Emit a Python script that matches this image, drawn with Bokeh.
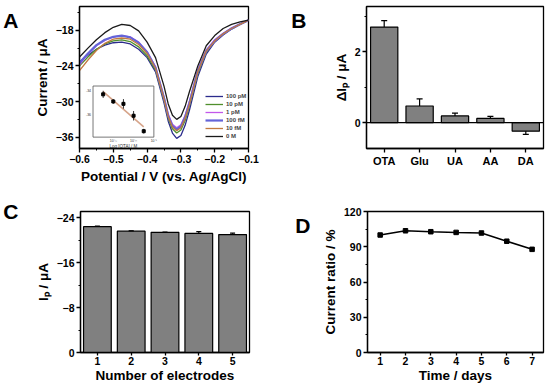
import numpy as np
from bokeh.plotting import figure
from bokeh.layouts import column, row
from bokeh.models import (Range1d, FactorRange, FixedTicker, Span, Whisker, ColumnDataSource,
                          Legend, LegendItem, LinearAxis, TeeHead)
from bokeh.core.properties import value
from bokeh.embed import file_html
from bokeh.resources import INLINE

FONT = "Liberation Sans"

# ---------------- Panel A: DPV curves ----------------
potential = [-0.600, -0.575, -0.550, -0.525, -0.500, -0.475, -0.450, -0.425, -0.400, -0.375, -0.350,
             -0.3375, -0.325, -0.3125, -0.300, -0.2875, -0.275, -0.250, -0.225, -0.200, -0.175,
             -0.150, -0.125, -0.100]
cur_100pM = [-23.3, -22.2, -21.2, -20.5, -20.1, -20.0, -20.3, -21.2, -22.6, -25.0, -30.2,
             -33.3, -35.3, -36.2, -35.7, -34.0, -31.5, -25.8, -22.0, -20.0, -18.8,
             -17.8, -17.0, -16.3]
cur_10pM = [-24.0, -22.5, -21.2, -20.3, -19.8, -19.6, -19.9, -20.8, -22.3, -24.7, -29.8,
            -32.8, -34.6, -35.3, -34.8, -33.2, -30.8, -25.3, -21.7, -19.8, -18.6,
            -17.7, -16.9, -16.3]
cur_1pM = [-23.8, -22.0, -20.6, -19.7, -19.1, -18.9, -19.1, -20.0, -21.6, -24.1, -29.2,
           -32.1, -33.8, -34.4, -33.9, -32.3, -30.0, -24.6, -21.3, -19.6, -18.5,
           -17.6, -16.9, -16.3]
cur_100fM = [-23.5, -21.9, -20.5, -19.6, -19.1, -18.9, -19.2, -20.1, -21.7, -24.3, -29.4,
             -32.4, -34.1, -34.7, -34.2, -32.6, -30.3, -24.9, -21.5, -19.8, -18.6,
             -17.7, -17.0, -16.3]
cur_10fM = [-24.8, -23.0, -21.4, -20.2, -19.5, -19.3, -19.5, -20.4, -21.9, -24.4, -29.5,
            -32.5, -34.3, -34.9, -34.4, -32.8, -30.5, -25.0, -21.5, -19.8, -18.6,
            -17.7, -17.0, -16.3]
cur_0M = [-22.5, -21.0, -19.6, -18.4, -17.5, -17.0, -17.2, -18.1, -20.0, -22.6, -27.4,
          -30.4, -32.3, -33.0, -32.5, -30.8, -28.4, -24.0, -20.6, -18.9, -17.7,
          -17.0, -16.6, -16.3]
dpv_labels = ["100 pM", "10 pM", "1 pM", "100 fM", "10 fM", "0 M"]
dpv_series = [cur_100pM, cur_10pM, cur_1pM, cur_100fM, cur_10fM, cur_0M]
dpv_colors = ["#2b2b8c", "#4f8f2c", "#c258ea", "#6464d8", "#c27a40", "#1a1a1a"]
dpv_widths = [1.3, 1.3, 1.3, 2.2, 1.3, 1.3]
a_xticks = [-0.6, -0.5, -0.4, -0.3, -0.2, -0.1]
a_xminor = [-0.55, -0.45, -0.35, -0.25, -0.15]
a_yticks = [-36, -30, -24, -18]
a_yminor = [-33, -27, -21, -15]

# inset (calibration)
inset_logc = [-14, -13, -12, -11, -10]
inset_ip = [-34.3, -34.9, -35.1, -36.1, -37.4]
inset_err = [0.3, 0.2, 0.4, 0.4, 0.2]
inset_xlim = [-15, -9]
inset_ylim = [-37.9, -33.6]
inset_xticks = [-13, -11, -9]
inset_xtick_labels = ["10⁻¹³", "10⁻¹¹", "10⁻⁹"]
inset_yticks = [-34, -36]
inset_ytick_labels = ["-34", "-36"]

# ---------------- Panel B ----------------
species = ["OTA", "Glu", "UA", "AA", "DA"]
delta_ip = [2.70, 0.47, 0.19, 0.12, -0.24]
delta_ip_err = [0.18, 0.20, 0.08, 0.06, 0.09]

# ---------------- Panel C ----------------
electrodes = [1, 2, 3, 4, 5]
ip_electrodes = [-22.4, -21.6, -21.4, -21.2, -21.0]
ip_electrodes_err = [0.08, 0.05, 0.05, 0.30, 0.25]

# ---------------- Panel D ----------------
days = [1, 2, 3, 4, 5, 6, 7]
current_ratio = [100.0, 103.6, 102.8, 102.2, 101.7, 94.7, 87.8]

BAR = "#808080"


def style(p, xlabel, ylabel):
    p.outline_line_color = "black"
    p.outline_line_width = 1.3
    p.outline_line_alpha = 1
    p.xgrid.visible = False
    p.ygrid.visible = False
    p.background_fill_color = "white"
    p.border_fill_color = "white"
    for ax, lab in ((p.xaxis[0], xlabel), (p.yaxis[0], ylabel)):
        ax.axis_label = lab
        ax.axis_line_width = 1.3
        ax.axis_line_color = "black"
        ax.major_tick_line_width = 1.3
        ax.minor_tick_line_width = 1.0
        ax.major_tick_line_color = "black"
        ax.minor_tick_line_color = "black"
        ax.major_tick_out = 4
        ax.major_tick_in = 0
        ax.minor_tick_out = 2
        ax.minor_tick_in = 0
        ax.major_label_text_font = FONT
        ax.major_label_text_font_style = "bold"
        ax.major_label_text_font_size = "10.5px"
        ax.major_label_text_color = "black"
        ax.axis_label_text_font = FONT
        ax.axis_label_text_font_style = "bold"
        ax.axis_label_text_font_size = "13.5px"
        ax.axis_label_text_color = "black"
        ax.major_label_standoff = 2
        ax.axis_label_standoff = 3


def letter(p, txt, standoff, align):
    ax = LinearAxis(axis_label=txt, ticker=FixedTicker(ticks=[]))
    ax.axis_line_color = None
    ax.major_tick_line_color = None
    ax.minor_tick_line_color = None
    ax.major_label_text_font_size = "1px"
    ax.axis_label_text_font = FONT
    ax.axis_label_text_font_style = "bold"
    ax.axis_label_text_font_size = "21px"
    ax.axis_label_text_color = "black"
    ax.axis_label_standoff = standoff
    ax.axis_label_orientation = "horizontal"
    ax.axis_label_align = align
    p.add_layout(ax, "left")


# ---------------- Figure A ----------------
pA = figure(width=275, height=190, x_range=Range1d(-0.6, -0.1), y_range=Range1d(-37.9, -14.0),
            output_backend="svg", toolbar_location=None,
            min_border_left=72, min_border_right=27, min_border_top=6, min_border_bottom=42)
style(pA, "Potential / V (vs. Ag/AgCl)", "Current / μA")
pA.xaxis.ticker = FixedTicker(ticks=a_xticks, minor_ticks=a_xminor)
pA.yaxis.ticker = FixedTicker(ticks=a_yticks, minor_ticks=a_yminor)

renderers = []
for ys, c, w in zip(dpv_series, dpv_colors, dpv_widths):
    r = pA.line(potential, ys, line_color=c, line_width=w)
    renderers.append(r)

leg = Legend(items=[LegendItem(label=l, renderers=[r]) for l, r in zip(dpv_labels, renderers)],
             location=(126, 8))
leg.label_text_font = FONT
leg.label_text_font_style = "bold"
leg.label_text_font_size = "6px"
leg.glyph_width = 18
leg.glyph_height = 8
leg.label_height = 8
leg.label_standoff = 3
leg.spacing = 0
leg.padding = 0
leg.margin = 0
leg.border_line_alpha = 0
leg.background_fill_alpha = 0
pA.add_layout(leg)

# inset: its own ranges, mapped into a sub-box of the frame
box_fx = (0.08, 0.44)
box_fy = (0.08, 0.44)
sx = (inset_xlim[1] - inset_xlim[0]) / (box_fx[1] - box_fx[0])
sy = (inset_ylim[1] - inset_ylim[0]) / (box_fy[1] - box_fy[0])
x0 = inset_xlim[0] - box_fx[0] * sx
y0 = inset_ylim[0] - box_fy[0] * sy
pA.extra_x_ranges = {"ins": Range1d(x0, x0 + sx)}
pA.extra_y_ranges = {"ins": Range1d(y0, y0 + sy)}
ins = dict(x_range_name="ins", y_range_name="ins")
pA.quad(left=[inset_xlim[0]], right=[inset_xlim[1]], bottom=[inset_ylim[0]], top=[inset_ylim[1]],
        fill_color="white", line_color="#555555", line_width=0.8, **ins)
coef = np.polyfit(inset_logc, inset_ip, 1)
fx = [inset_logc[0], inset_logc[-1]]
pA.line(fx, list(np.polyval(coef, fx)), line_color="#d6a48a", line_width=1.6, **ins)
lo = [v - e for v, e in zip(inset_ip, inset_err)]
hi = [v + e for v, e in zip(inset_ip, inset_err)]
pA.segment(x0=inset_logc, y0=lo, x1=inset_logc, y1=hi, line_color="black", line_width=0.8, **ins)
pA.scatter(inset_logc, inset_ip, marker="square", size=3, color="black", **ins)
pA.text(x=inset_xticks, y=[inset_ylim[0]] * len(inset_xticks), text=inset_xtick_labels,
        text_font=value(FONT), text_font_size="3.5px", text_align="center", text_baseline="top",
        y_offset=2, text_color="#333333", **ins)
pA.text(x=[(inset_xlim[0] + inset_xlim[1]) / 2], y=[inset_ylim[0]], text=["Log [OTA] / M"],
        text_font=value(FONT), text_font_size="4.5px", text_align="center", text_baseline="top",
        y_offset=7, text_color="#333333", **ins)
pA.text(x=[inset_xlim[0]] * len(inset_yticks), y=inset_yticks, text=inset_ytick_labels,
        text_font=value(FONT), text_font_size="3.5px", text_align="right", text_baseline="middle",
        x_offset=-2, text_color="#333333", **ins)
letter(pA, "\nA", 13, "end")

# ---------------- Figure B ----------------
pB = figure(width=275, height=190, x_range=FactorRange(*species), y_range=Range1d(-0.73, 3.28),
            output_backend="svg", toolbar_location=None,
            min_border_left=91, min_border_right=7, min_border_top=6, min_border_bottom=42)
style(pB, "", "ΔIₚ / μA")
pB.yaxis.ticker = FixedTicker(ticks=[0, 2], minor_ticks=[1, 3])
pB.xaxis.major_label_text_font_size = "11px"
pB.vbar(x=species, top=delta_ip, bottom=0, width=0.77, fill_color=BAR, line_color="black", line_width=1.2)
pB.add_layout(Span(location=0, dimension="width", line_color="black", line_width=1.2))
srcB = ColumnDataSource(dict(x=species,
                             lo=[v - e for v, e in zip(delta_ip, delta_ip_err)],
                             hi=[v + e for v, e in zip(delta_ip, delta_ip_err)]))
pB.add_layout(Whisker(base="x", lower="lo", upper="hi", source=srcB, line_color="black", line_width=1.2,
                      upper_head=TeeHead(size=6, line_color="black", line_width=1.2),
                      lower_head=TeeHead(size=6, line_color="black", line_width=1.2)))
letter(pB, "\nB", 24, "end")

# ---------------- Figure C ----------------
pC = figure(width=275, height=195, x_range=Range1d(0.5, 5.5), y_range=Range1d(0, -25.1),
            output_backend="svg", toolbar_location=None,
            min_border_left=72, min_border_right=26, min_border_top=21, min_border_bottom=32)
style(pC, "Number of electrodes", "Iₚ / μA")
pC.xaxis.ticker = FixedTicker(ticks=electrodes)
pC.yaxis.ticker = FixedTicker(ticks=[-24, -16, -8, 0], minor_ticks=[-20, -12, -4])
pC.xaxis.major_label_standoff = 1
pC.xaxis.axis_label_standoff = 0
pC.xaxis.major_tick_out = 3
pC.vbar(x=electrodes, top=ip_electrodes, bottom=0, width=0.82, fill_color=BAR, line_color="black", line_width=1.2)
srcC = ColumnDataSource(dict(x=electrodes,
                             lo=[v - e for v, e in zip(ip_electrodes, ip_electrodes_err)],
                             hi=[v + e for v, e in zip(ip_electrodes, ip_electrodes_err)]))
pC.add_layout(Whisker(base="x", lower="lo", upper="hi", source=srcC, line_color="black", line_width=1.2,
                      upper_head=TeeHead(size=5, line_color="black", line_width=1.2),
                      lower_head=TeeHead(size=5, line_color="black", line_width=1.2)))
letter(pC, "C", 14, "start")

# ---------------- Figure D ----------------
pD = figure(width=275, height=195, x_range=Range1d(0.5, 7.45), y_range=Range1d(0, 120),
            output_backend="svg", toolbar_location=None,
            min_border_left=92, min_border_right=7, min_border_top=19, min_border_bottom=32)
style(pD, "Time / days", "Current ratio / %")
pD.xaxis.ticker = FixedTicker(ticks=days)
pD.yaxis.ticker = FixedTicker(ticks=[0, 30, 60, 90, 120], minor_ticks=[15, 45, 75, 105])
pD.xaxis.major_label_standoff = 1
pD.xaxis.axis_label_standoff = 0
pD.xaxis.major_tick_out = 3
pD.line(days, current_ratio, line_color="black", line_width=1.5)
pD.scatter(days, current_ratio, marker="square", size=4.5, color="black")
letter(pD, "\nD", 9, "end")

layout = column(row(pA, pB), row(pC, pD))
open("out.html", "w").write(file_html(layout, INLINE))
